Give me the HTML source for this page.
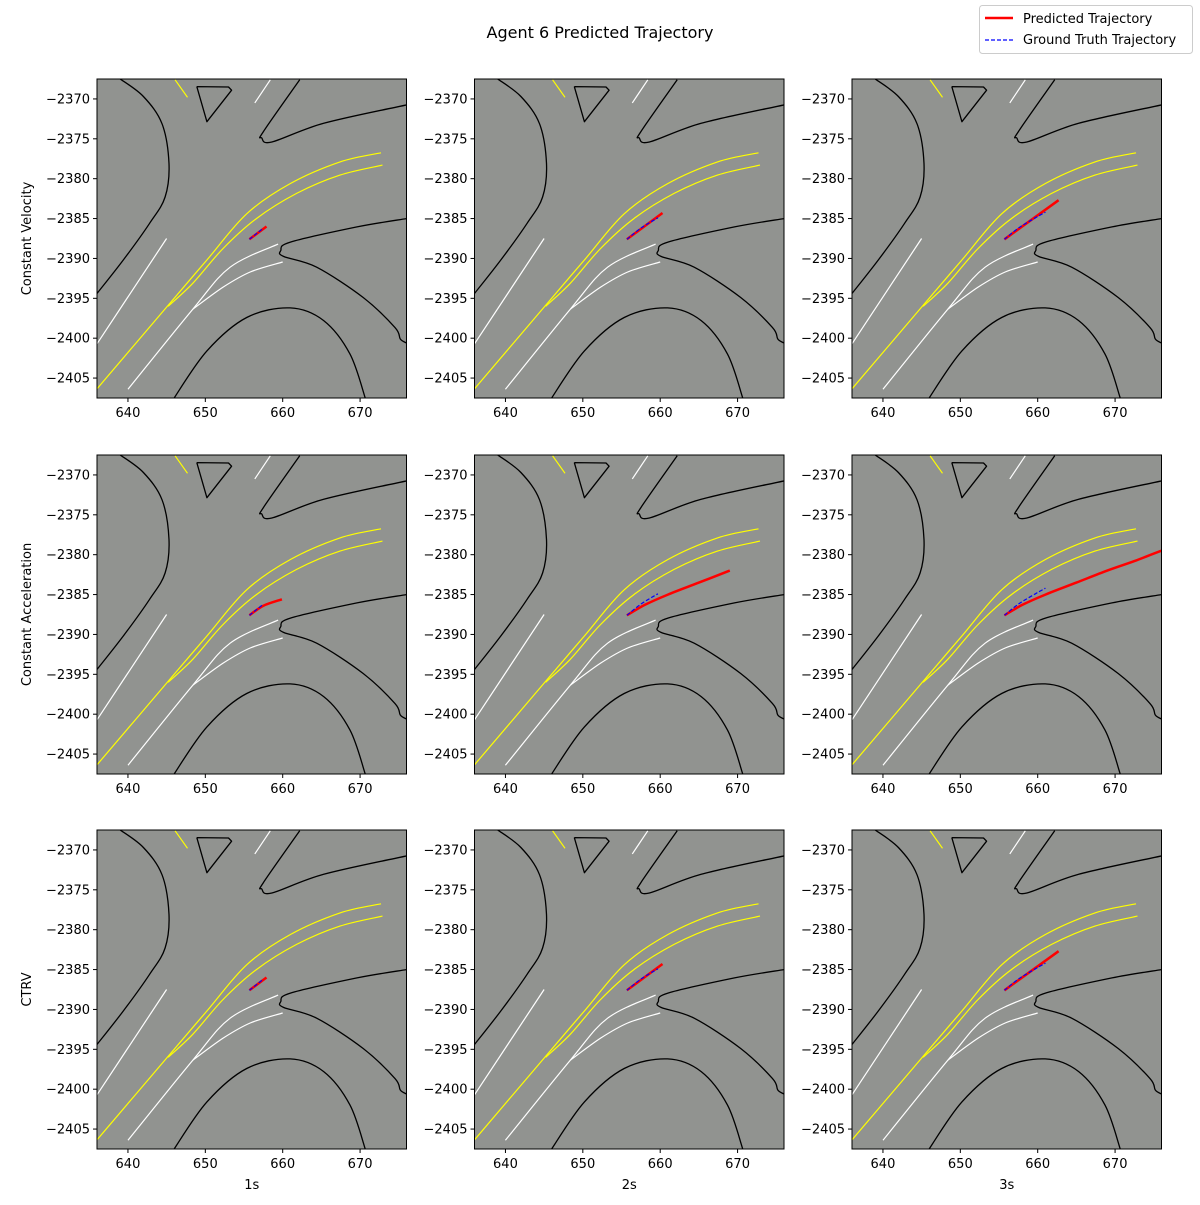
<!DOCTYPE html>
<html><head><meta charset="utf-8"><style>
body{margin:0;background:#fff;}
svg text{font-family:"DejaVu Sans","Liberation Sans",sans-serif;}
</style></head><body>
<svg id="fig" width="1200" height="1200" viewBox="0 0 1200 1200" xmlns="http://www.w3.org/2000/svg">
<rect width="1200" height="1200" fill="#fff"/>
<text x="600" y="38" text-anchor="middle" font-size="16">Agent 6 Predicted Trajectory</text>
<g>
<rect x="979.5" y="5.5" width="213" height="48" rx="3" fill="#fff" stroke="#ccc"/>
<line x1="985" y1="18" x2="1013" y2="18" stroke="red" stroke-width="2.5"/>
<text x="1023" y="23" font-size="13">Predicted Trajectory</text>
<line x1="985" y1="40" x2="1013" y2="40" stroke="blue" stroke-width="1.2" stroke-dasharray="4,2"/>
<text x="1023" y="44" font-size="13">Ground Truth Trajectory</text>
</g>
</svg>
<script>
const xTicks=[640,650,660,670];
const yTicks=[-2370,-2375,-2380,-2385,-2390,-2395,-2400,-2405];
const rowLabels=["Constant Velocity","Constant Acceleration","CTRV"];
const colLabels=["1s","2s","3s"];
const predCV=[
 [[655.7,-2387.6],[657.9,-2386.0]],
 [[655.7,-2387.6],[660.3,-2384.3]],
 [[655.7,-2387.6],[662.7,-2382.7]]];
const predCA=[
 [[655.7,-2387.6],[657.5,-2386.4],[659.9,-2385.6]],
 [[655.7,-2387.6],[658,-2386.3],[661,-2385.0],[665,-2383.5],[669,-2382.0]],
 [[655.7,-2387.6],[658,-2386.3],[661,-2385.0],[665,-2383.5],[669,-2382.0],[672.5,-2380.8],[676,-2379.5],[680,-2378.1]]];
const predCTRV=[
 [[655.7,-2387.6],[657.9,-2386.0]],
 [[655.7,-2387.6],[660.3,-2384.3]],
 [[655.7,-2387.6],[662.7,-2382.7]]];
const gtPaths=[
 [[655.7,-2387.6],[657.5,-2386.2]],
 [[655.7,-2387.6],[657.5,-2386.2],[659.7,-2384.9]],
 [[655.7,-2387.6],[657.5,-2386.2],[659.7,-2384.9],[661.0,-2384.2]]];
const predictions=[predCV,predCA,predCTRV];
const mapBlack=[
 [[639.0,-2367.5],[642.0,-2369.7],[644.4,-2373.1],[645.3,-2378.1],[644.8,-2382.3],[642.8,-2385.6],[639.4,-2390.2],[636.0,-2394.4]],
 [[662.2,-2367.6],[657.5,-2374.1],[657.3,-2374.9],[658.6,-2375.4],[665.3,-2373.05],[676.0,-2370.75]],
 [[676.0,-2385.0],[669.6,-2386.05],[661.0,-2387.95],[659.75,-2389.0],[660.1,-2389.75],[664.4,-2391.1],[670.4,-2394.9],[674.5,-2398.65],[675.2,-2400.1],[676.0,-2400.6]],
 [[645.9,-2407.6],[650.2,-2401.6],[655.35,-2397.4],[660.95,-2396.2],[665.3,-2397.8],[668.7,-2402.0],[670.7,-2407.6]]];
const mapIsland=[[648.9,-2368.45],[653.0,-2368.5],[653.4,-2368.9],[650.2,-2372.85],[648.9,-2368.45]];
const mapYellow=[
 [[646.1,-2367.6],[647.7,-2369.8]],
 [[672.7,-2376.75],[667.4,-2377.9],[661.0,-2380.6],[655.35,-2384.4],[650.2,-2390.2],[645.0,-2396.1],[636.0,-2406.35]],
 [[672.9,-2378.3],[667.4,-2379.55],[661.8,-2381.85],[656.6,-2385.0],[652.3,-2388.75],[648.4,-2393.1],[645.2,-2396.0]]];
const mapWhite=[
 [[658.4,-2367.6],[656.4,-2370.5]],
 [[636.0,-2400.7],[645.0,-2387.5]],
 [[640.0,-2406.4],[648.4,-2396.35],[653.2,-2391.1],[659.4,-2388.2]],
 [[648.4,-2396.35],[652.3,-2393.6],[655.8,-2391.7],[660.0,-2390.45]]];

const NS="http://www.w3.org/2000/svg";
const svg=document.getElementById('fig');
const axL=[97,474.5,852], axT=[79,455,830], W=309.5, H=319;
const xMin=636,xMax=676,yMin=-2407.5,yMax=-2367.5;
function mk(tag,attrs,parent){const e=document.createElementNS(NS,tag);for(const k in attrs)e.setAttribute(k,attrs[k]);parent.appendChild(e);return e;}
function fmt(v){return v<0?'\u2212'+Math.abs(v):String(v);}
for(let r=0;r<3;r++){for(let c=0;c<3;c++){
 const L=axL[c],T=axT[r];
 const sx=v=>L+(v-xMin)/(xMax-xMin)*W;
 const sy=v=>T+(yMax-v)/(yMax-yMin)*H;
 const path=pts=>pts.map((p,i)=>(i?'L':'M')+sx(p[0]).toFixed(1)+','+sy(p[1]).toFixed(1)).join(' ');
 const smooth=pts=>{const P=pts.map(p=>[sx(p[0]),sy(p[1])]);if(P.length<3)return path(pts);
  let d='M'+P[0][0].toFixed(1)+','+P[0][1].toFixed(1);
  for(let i=0;i<P.length-1;i++){const p0=P[i-1]||P[i],p1=P[i],p2=P[i+1],p3=P[i+2]||P[i+1];
   const c1=[p1[0]+(p2[0]-p0[0])/6,p1[1]+(p2[1]-p0[1])/6],c2=[p2[0]-(p3[0]-p1[0])/6,p2[1]-(p3[1]-p1[1])/6];
   d+=' C'+c1[0].toFixed(1)+','+c1[1].toFixed(1)+' '+c2[0].toFixed(1)+','+c2[1].toFixed(1)+' '+p2[0].toFixed(1)+','+p2[1].toFixed(1);}
  return d;};
 const g=mk('g',{},svg);
 
 
 const cid='clip'+r+c;
 const cp=mk('clipPath',{id:cid},g);mk('rect',{x:L,y:T,width:W,height:H},cp);
 const bg=mk('rect',{x:L,y:T,width:W,height:H,fill:'#919390'},g);
 
 
 const inner=mk('g',{'clip-path':'url(#'+cid+')'},g);
 mapBlack.forEach(p=>{const e=mk('path',{d:smooth(p),fill:'none',stroke:'#000','stroke-width':1.3},inner);
  
  });
 const isl=mk('path',{d:path(mapIsland),fill:'none',stroke:'#000','stroke-width':1.3,'stroke-linejoin':'round'},inner);
 
 
 mapYellow.forEach(p=>{const e=mk('path',{d:smooth(p),fill:'none',stroke:'#ffff00','stroke-width':1.2},inner);
  
  });
 mapWhite.forEach(p=>{const e=mk('path',{d:smooth(p),fill:'none',stroke:'#fff','stroke-width':1.2},inner);
  
  });
 const pr=mk('path',{d:smooth(predictions[r][c]),fill:'none',stroke:'red','stroke-width':2.5},inner);
 
 
 const gt=mk('path',{d:smooth(gtPaths[c]),fill:'none',stroke:'blue','stroke-width':1.2,'stroke-dasharray':'4,2'},inner);
 
 
 const fr=mk('rect',{x:L,y:T,width:W,height:H,fill:'none',stroke:'#000','stroke-width':1},g);
 
 
 xTicks.forEach(v=>{const x=sx(v);mk('line',{x1:x,y1:T+H,x2:x,y2:T+H+4,stroke:'#000'},g);
  const t=mk('text',{x:x,y:T+H+19,'text-anchor':'middle','font-size':13},g);t.textContent=v;
  
  });
 yTicks.forEach(v=>{const y=sy(v);mk('line',{x1:L-4,y1:y,x2:L,y2:y,stroke:'#000'},g);
  const t=mk('text',{x:L-7,y:y+4.5,'text-anchor':'end','font-size':13},g);t.textContent=fmt(v);
  
  });
 if(c===0){const t=mk('text',{x:31,y:T+H/2,'text-anchor':'middle','font-size':13,transform:'rotate(-90 31 '+(T+H/2)+')'},g);t.textContent=rowLabels[r];
  
  }
 if(r===2){const t=mk('text',{x:L+W/2,y:1189,'text-anchor':'middle','font-size':13},g);t.textContent=colLabels[c];
  
  }
}}
</script>
</body></html>
